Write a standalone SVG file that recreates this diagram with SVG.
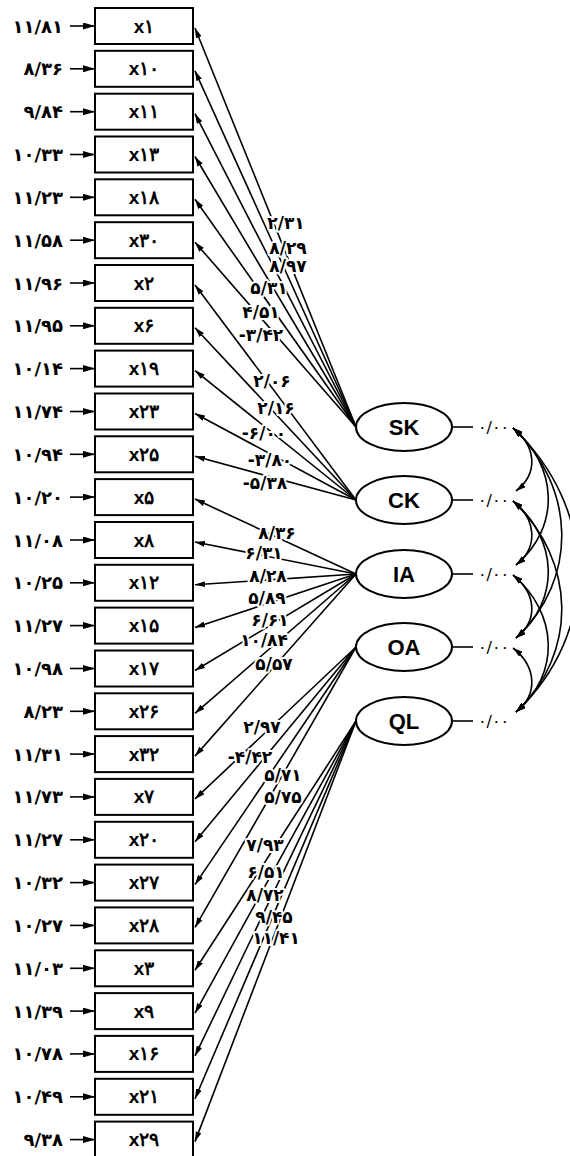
<svg xmlns="http://www.w3.org/2000/svg" width="570" height="1156" viewBox="0 0 570 1156">
<style>
.box{fill:#fff;stroke:#000;stroke-width:2}
.ell{fill:#fff;stroke:#000;stroke-width:2}
.bl{font-family:"Liberation Sans",Arial,sans-serif;font-weight:bold;font-size:19px;text-anchor:middle;dominant-baseline:central}
.el{font-family:"Liberation Sans",Arial,sans-serif;font-weight:bold;font-size:22px;text-anchor:middle;dominant-baseline:central}
.err{font-family:"DejaVu Sans",sans-serif;font-weight:bold;font-size:18px;text-anchor:end;dominant-baseline:central}
.pl{font-family:"DejaVu Sans",sans-serif;font-weight:bold;font-size:17px;text-anchor:middle;dominant-baseline:central;stroke:#fff;stroke-width:4;paint-order:stroke;stroke-linejoin:round}
.vl{font-family:"DejaVu Sans",sans-serif;font-size:16px;letter-spacing:2px;dominant-baseline:central}
.ln{stroke:#000;stroke-width:1.6;fill:none}
.pa{marker-end:url(#ah)}
.ea{marker-end:url(#eh)}
.cv{marker-start:url(#ch);marker-end:url(#ch)}
</style>
<defs>
<marker id="ah" viewBox="0 0 10 6" refX="10" refY="3" markerWidth="10" markerHeight="6" markerUnits="userSpaceOnUse" orient="auto"><path d="M0,0 L10,3 L0,6 z"/></marker>
<marker id="eh" viewBox="0 0 12 7" refX="12" refY="3.5" markerWidth="12" markerHeight="7" markerUnits="userSpaceOnUse" orient="auto"><path d="M0,0 L12,3.5 L0,7 z"/></marker>
<marker id="ch" viewBox="0 0 10 6" refX="10" refY="3" markerWidth="10" markerHeight="6" markerUnits="userSpaceOnUse" orient="auto-start-reverse"><path d="M0,0 L10,3 L0,6 z"/></marker>
</defs>
<rect width="570" height="1156" fill="#fff"/>
<g id="connectors">
<g id="paths">
<line class="ln pa" x1="356" y1="427" x2="195" y2="28"/>
<line class="ln pa" x1="356" y1="427" x2="195" y2="70.8"/>
<line class="ln pa" x1="356" y1="427" x2="195" y2="113.7"/>
<line class="ln pa" x1="356" y1="427" x2="195" y2="156.5"/>
<line class="ln pa" x1="356" y1="427" x2="195" y2="199.3"/>
<line class="ln pa" x1="356" y1="427" x2="195" y2="242.2"/>
<line class="ln pa" x1="356" y1="500" x2="195" y2="285"/>
<line class="ln pa" x1="356" y1="500" x2="195" y2="327.8"/>
<line class="ln pa" x1="356" y1="500" x2="195" y2="370.6"/>
<line class="ln pa" x1="356" y1="500" x2="195" y2="413.5"/>
<line class="ln pa" x1="356" y1="500" x2="195" y2="456.3"/>
<line class="ln pa" x1="356" y1="574" x2="195" y2="499.1"/>
<line class="ln pa" x1="356" y1="574" x2="195" y2="542"/>
<line class="ln pa" x1="356" y1="574" x2="195" y2="584.8"/>
<line class="ln pa" x1="356" y1="574" x2="195" y2="627.6"/>
<line class="ln pa" x1="356" y1="574" x2="195" y2="670.5"/>
<line class="ln pa" x1="356" y1="574" x2="195" y2="713.3"/>
<line class="ln pa" x1="356" y1="574" x2="195" y2="756.1"/>
<line class="ln pa" x1="356" y1="647" x2="195" y2="798.9"/>
<line class="ln pa" x1="356" y1="647" x2="195" y2="841.8"/>
<line class="ln pa" x1="356" y1="647" x2="195" y2="884.6"/>
<line class="ln pa" x1="356" y1="647" x2="195" y2="927.4"/>
<line class="ln pa" x1="356" y1="721" x2="195" y2="970.3"/>
<line class="ln pa" x1="356" y1="721" x2="195" y2="1013.1"/>
<line class="ln pa" x1="356" y1="721" x2="195" y2="1055.9"/>
<line class="ln pa" x1="356" y1="721" x2="195" y2="1098.8"/>
<line class="ln pa" x1="356" y1="721" x2="195" y2="1141.6"/>
</g>
<g id="errors">
<line class="ln ea" x1="70" y1="26" x2="95" y2="26"/>
<line class="ln ea" x1="70" y1="68.8" x2="95" y2="68.8"/>
<line class="ln ea" x1="70" y1="111.7" x2="95" y2="111.7"/>
<line class="ln ea" x1="70" y1="154.5" x2="95" y2="154.5"/>
<line class="ln ea" x1="70" y1="197.3" x2="95" y2="197.3"/>
<line class="ln ea" x1="70" y1="240.2" x2="95" y2="240.2"/>
<line class="ln ea" x1="70" y1="283" x2="95" y2="283"/>
<line class="ln ea" x1="70" y1="325.8" x2="95" y2="325.8"/>
<line class="ln ea" x1="70" y1="368.6" x2="95" y2="368.6"/>
<line class="ln ea" x1="70" y1="411.5" x2="95" y2="411.5"/>
<line class="ln ea" x1="70" y1="454.3" x2="95" y2="454.3"/>
<line class="ln ea" x1="70" y1="497.1" x2="95" y2="497.1"/>
<line class="ln ea" x1="70" y1="540" x2="95" y2="540"/>
<line class="ln ea" x1="70" y1="582.8" x2="95" y2="582.8"/>
<line class="ln ea" x1="70" y1="625.6" x2="95" y2="625.6"/>
<line class="ln ea" x1="70" y1="668.5" x2="95" y2="668.5"/>
<line class="ln ea" x1="70" y1="711.3" x2="95" y2="711.3"/>
<line class="ln ea" x1="70" y1="754.1" x2="95" y2="754.1"/>
<line class="ln ea" x1="70" y1="796.9" x2="95" y2="796.9"/>
<line class="ln ea" x1="70" y1="839.8" x2="95" y2="839.8"/>
<line class="ln ea" x1="70" y1="882.6" x2="95" y2="882.6"/>
<line class="ln ea" x1="70" y1="925.4" x2="95" y2="925.4"/>
<line class="ln ea" x1="70" y1="968.3" x2="95" y2="968.3"/>
<line class="ln ea" x1="70" y1="1011.1" x2="95" y2="1011.1"/>
<line class="ln ea" x1="70" y1="1053.9" x2="95" y2="1053.9"/>
<line class="ln ea" x1="70" y1="1096.8" x2="95" y2="1096.8"/>
<line class="ln ea" x1="70" y1="1139.6" x2="95" y2="1139.6"/>
</g>
<g id="variances">
<line class="ln" x1="452" y1="427" x2="473" y2="427"/>
<line class="ln" x1="452" y1="500" x2="473" y2="500"/>
<line class="ln" x1="452" y1="574" x2="473" y2="574"/>
<line class="ln" x1="452" y1="647" x2="473" y2="647"/>
<line class="ln" x1="452" y1="721" x2="473" y2="721"/>
</g>
<g id="covariances">
<path class="ln cv" d="M513,428 C536,446 539,473 516,491"/>
<path class="ln cv" d="M513,428 C558,466 561,527 516,565"/>
<path class="ln cv" d="M513,428 C576,487 579,579 516,638"/>
<path class="ln cv" d="M513,428 C598,508 601,632 516,712"/>
<path class="ln cv" d="M513,501 C536,519 539,547 516,565"/>
<path class="ln cv" d="M513,501 C558,539 561,600 516,638"/>
<path class="ln cv" d="M513,501 C576,560 579,653 516,712"/>
<path class="ln cv" d="M513,575 C536,593 539,620 516,638"/>
<path class="ln cv" d="M513,575 C558,613 561,674 516,712"/>
<path class="ln cv" d="M513,648 C536,666 539,694 516,712"/>
</g>
</g>
<g id="path-labels">
<text class="pl" x="286" y="223">۲/۳۱</text>
<text class="pl" x="288" y="248">۸/۲۹</text>
<text class="pl" x="288" y="266">۸/۹۷</text>
<text class="pl" x="269" y="288">۵/۳۱</text>
<text class="pl" x="261" y="312">۴/۵۱</text>
<text class="pl" x="261" y="335">-۳/۴۲</text>
<text class="pl" x="272" y="381">۲/۰۶</text>
<text class="pl" x="276" y="408">۲/۱۶</text>
<text class="pl" x="264" y="433">-۶/۰۰</text>
<text class="pl" x="270" y="460">-۳/۸۰</text>
<text class="pl" x="265" y="483">-۵/۳۸</text>
<text class="pl" x="277" y="533">۸/۳۶</text>
<text class="pl" x="264" y="553">۶/۳۱</text>
<text class="pl" x="268" y="576">۸/۲۸</text>
<text class="pl" x="267" y="598">۵/۸۹</text>
<text class="pl" x="270" y="620">۶/۶۱</text>
<text class="pl" x="264" y="640">۱۰/۸۴</text>
<text class="pl" x="274" y="664">۵/۵۷</text>
<text class="pl" x="262" y="727">۲/۹۷</text>
<text class="pl" x="250" y="757">-۴/۴۲</text>
<text class="pl" x="283" y="775">۵/۷۱</text>
<text class="pl" x="283" y="797">۵/۷۵</text>
<text class="pl" x="265" y="845">۷/۹۳</text>
<text class="pl" x="266" y="872">۶/۵۱</text>
<text class="pl" x="265" y="895">۸/۷۲</text>
<text class="pl" x="274" y="917">۹/۴۵</text>
<text class="pl" x="276" y="938">۱۱/۴۱</text>
</g>
<g id="x1"><rect class="box" x="95" y="8" width="98" height="36"/><text class="bl" x="144" y="26">x۱</text><text class="err" x="63" y="26">۱۱/۸۱</text></g>
<g id="x10"><rect class="box" x="95" y="50.8" width="98" height="36"/><text class="bl" x="144" y="68.8">x۱۰</text><text class="err" x="63" y="68.8">۸/۳۶</text></g>
<g id="x11"><rect class="box" x="95" y="93.7" width="98" height="36"/><text class="bl" x="144" y="111.7">x۱۱</text><text class="err" x="63" y="111.7">۹/۸۴</text></g>
<g id="x13"><rect class="box" x="95" y="136.5" width="98" height="36"/><text class="bl" x="144" y="154.5">x۱۳</text><text class="err" x="63" y="154.5">۱۰/۳۳</text></g>
<g id="x18"><rect class="box" x="95" y="179.3" width="98" height="36"/><text class="bl" x="144" y="197.3">x۱۸</text><text class="err" x="63" y="197.3">۱۱/۲۳</text></g>
<g id="x30"><rect class="box" x="95" y="222.2" width="98" height="36"/><text class="bl" x="144" y="240.2">x۳۰</text><text class="err" x="63" y="240.2">۱۱/۵۸</text></g>
<g id="x2"><rect class="box" x="95" y="265" width="98" height="36"/><text class="bl" x="144" y="283">x۲</text><text class="err" x="63" y="283">۱۱/۹۶</text></g>
<g id="x6"><rect class="box" x="95" y="307.8" width="98" height="36"/><text class="bl" x="144" y="325.8">x۶</text><text class="err" x="63" y="325.8">۱۱/۹۵</text></g>
<g id="x19"><rect class="box" x="95" y="350.6" width="98" height="36"/><text class="bl" x="144" y="368.6">x۱۹</text><text class="err" x="63" y="368.6">۱۰/۱۴</text></g>
<g id="x23"><rect class="box" x="95" y="393.5" width="98" height="36"/><text class="bl" x="144" y="411.5">x۲۳</text><text class="err" x="63" y="411.5">۱۱/۷۴</text></g>
<g id="x25"><rect class="box" x="95" y="436.3" width="98" height="36"/><text class="bl" x="144" y="454.3">x۲۵</text><text class="err" x="63" y="454.3">۱۰/۹۴</text></g>
<g id="x5"><rect class="box" x="95" y="479.1" width="98" height="36"/><text class="bl" x="144" y="497.1">x۵</text><text class="err" x="63" y="497.1">۱۰/۲۰</text></g>
<g id="x8"><rect class="box" x="95" y="522" width="98" height="36"/><text class="bl" x="144" y="540">x۸</text><text class="err" x="63" y="540">۱۱/۰۸</text></g>
<g id="x12"><rect class="box" x="95" y="564.8" width="98" height="36"/><text class="bl" x="144" y="582.8">x۱۲</text><text class="err" x="63" y="582.8">۱۰/۲۵</text></g>
<g id="x15"><rect class="box" x="95" y="607.6" width="98" height="36"/><text class="bl" x="144" y="625.6">x۱۵</text><text class="err" x="63" y="625.6">۱۱/۲۷</text></g>
<g id="x17"><rect class="box" x="95" y="650.5" width="98" height="36"/><text class="bl" x="144" y="668.5">x۱۷</text><text class="err" x="63" y="668.5">۱۰/۹۸</text></g>
<g id="x26"><rect class="box" x="95" y="693.3" width="98" height="36"/><text class="bl" x="144" y="711.3">x۲۶</text><text class="err" x="63" y="711.3">۸/۲۳</text></g>
<g id="x32"><rect class="box" x="95" y="736.1" width="98" height="36"/><text class="bl" x="144" y="754.1">x۳۲</text><text class="err" x="63" y="754.1">۱۱/۳۱</text></g>
<g id="x7"><rect class="box" x="95" y="778.9" width="98" height="36"/><text class="bl" x="144" y="796.9">x۷</text><text class="err" x="63" y="796.9">۱۱/۷۳</text></g>
<g id="x20"><rect class="box" x="95" y="821.8" width="98" height="36"/><text class="bl" x="144" y="839.8">x۲۰</text><text class="err" x="63" y="839.8">۱۱/۲۷</text></g>
<g id="x27"><rect class="box" x="95" y="864.6" width="98" height="36"/><text class="bl" x="144" y="882.6">x۲۷</text><text class="err" x="63" y="882.6">۱۰/۳۲</text></g>
<g id="x28"><rect class="box" x="95" y="907.4" width="98" height="36"/><text class="bl" x="144" y="925.4">x۲۸</text><text class="err" x="63" y="925.4">۱۰/۲۷</text></g>
<g id="x3"><rect class="box" x="95" y="950.3" width="98" height="36"/><text class="bl" x="144" y="968.3">x۳</text><text class="err" x="63" y="968.3">۱۱/۰۳</text></g>
<g id="x9"><rect class="box" x="95" y="993.1" width="98" height="36"/><text class="bl" x="144" y="1011.1">x۹</text><text class="err" x="63" y="1011.1">۱۱/۳۹</text></g>
<g id="x16"><rect class="box" x="95" y="1035.9" width="98" height="36"/><text class="bl" x="144" y="1053.9">x۱۶</text><text class="err" x="63" y="1053.9">۱۰/۷۸</text></g>
<g id="x21"><rect class="box" x="95" y="1078.8" width="98" height="36"/><text class="bl" x="144" y="1096.8">x۲۱</text><text class="err" x="63" y="1096.8">۱۰/۴۹</text></g>
<g id="x29"><rect class="box" x="95" y="1121.6" width="98" height="36"/><text class="bl" x="144" y="1139.6">x۲۹</text><text class="err" x="63" y="1139.6">۹/۳۸</text></g>
<g id="SK"><ellipse class="ell" cx="404" cy="427" rx="48" ry="24"/><text class="el" x="404" y="427">SK</text><text class="vl" x="478" y="427">۰/۰۰</text></g>
<g id="CK"><ellipse class="ell" cx="404" cy="500" rx="48" ry="24"/><text class="el" x="404" y="500">CK</text><text class="vl" x="478" y="500">۰/۰۰</text></g>
<g id="IA"><ellipse class="ell" cx="404" cy="574" rx="48" ry="24"/><text class="el" x="404" y="574">IA</text><text class="vl" x="478" y="574">۰/۰۰</text></g>
<g id="OA"><ellipse class="ell" cx="404" cy="647" rx="48" ry="24"/><text class="el" x="404" y="647">OA</text><text class="vl" x="478" y="647">۰/۰۰</text></g>
<g id="QL"><ellipse class="ell" cx="404" cy="721" rx="48" ry="24"/><text class="el" x="404" y="721">QL</text><text class="vl" x="478" y="721">۰/۰۰</text></g>
</svg>
